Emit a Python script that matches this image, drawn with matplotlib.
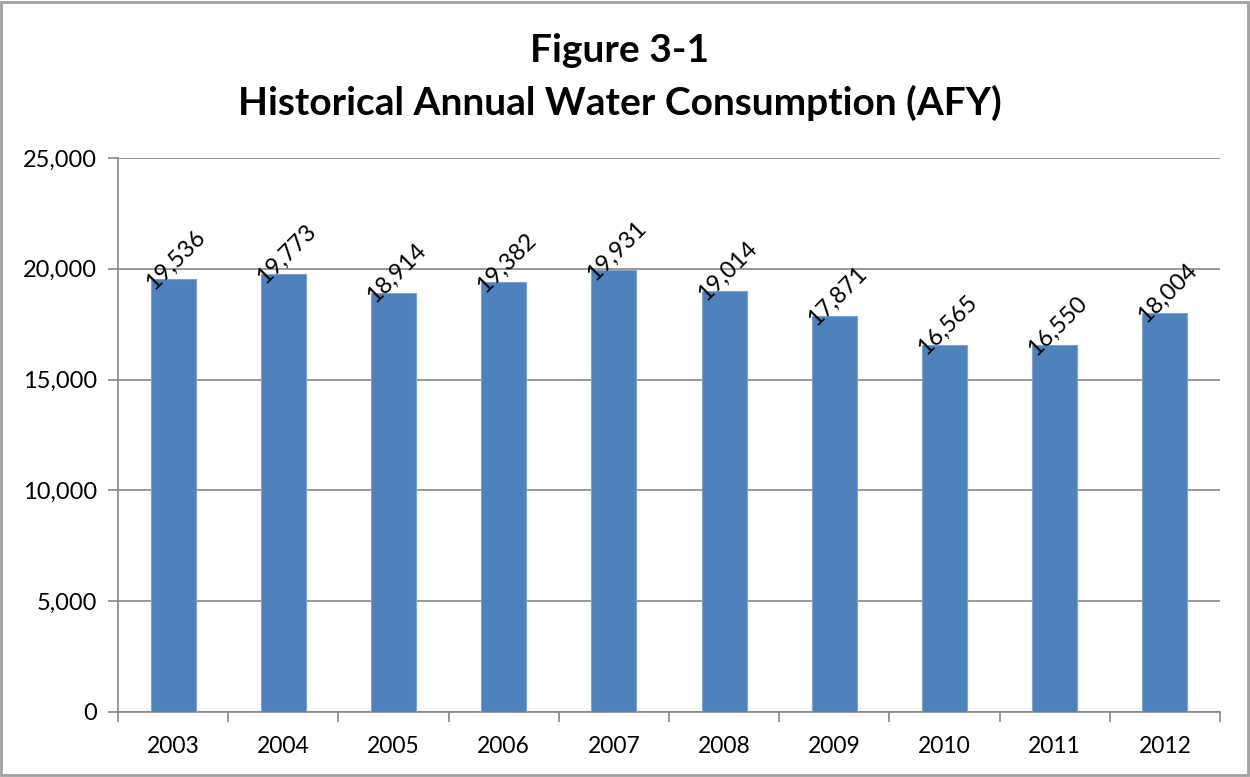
import matplotlib
matplotlib.use("Agg")
import matplotlib.pyplot as plt
from matplotlib.patches import Rectangle
from matplotlib.ticker import FuncFormatter, FixedLocator

plt.rcParams['font.family'] = ['Lato', 'DejaVu Sans']

years = ['2003', '2004', '2005', '2006', '2007', '2008', '2009', '2010', '2011', '2012']
consumption = [19536, 19773, 18914, 19382, 19931, 19014, 17871, 16565, 16550, 18004]
y_ticks = [0, 5000, 10000, 15000, 20000, 25000]

fig = plt.figure(figsize=(12.5, 7.77), dpi=100)
fig.patches.append(Rectangle((0.001, 0.002), 0.997, 0.995, transform=fig.transFigure,
                             fill=False, edgecolor='#a0a0a0', linewidth=2))
ax = fig.add_axes([0.0944, 0.0837, 0.8816, 0.713])

x = list(range(len(years)))
ax.bar(x, consumption, width=0.41, color='#4f81bd', edgecolor='#7fa3d0', linewidth=0.8, zorder=3)

for xi, v in zip(x, consumption):
    ax.annotate(f'{v:,}', (xi, v), xytext=(2, 14), textcoords='offset points',
                rotation=45, rotation_mode='anchor', ha='center', va='center',
                fontsize=17, zorder=4)

ax.set_xlim(-0.5, len(years) - 0.5)
ax.set_ylim(0, 25000)
ax.set_yticks(y_ticks)
ax.yaxis.set_major_formatter(FuncFormatter(lambda v, p: f'{int(v):,}'))
ax.set_xticks(x)
ax.set_xticklabels(years)
ax.xaxis.set_minor_locator(FixedLocator([i - 0.5 for i in range(len(years) + 1)]))
ax.tick_params(axis='x', which='major', length=0, pad=17, labelsize=16.5)
ax.tick_params(axis='x', which='minor', length=7, width=1.2, color='#868686')
ax.tick_params(axis='y', length=7, width=1.2, color='#868686', labelsize=17, pad=8)

ax.grid(axis='y', color='#868686', linewidth=1.2, zorder=0)
for s in ['top', 'right']:
    ax.spines[s].set_visible(False)
for s in ['left', 'bottom']:
    ax.spines[s].set_color('#868686')
    ax.spines[s].set_linewidth(1.2)

fig.text(0.496, 0.935, 'Figure 3-1', ha='center', va='center', fontsize=28, fontweight='bold')
fig.text(0.496, 0.867, 'Historical Annual Water Consumption (AFY)', ha='center', va='center',
         fontsize=28, fontweight='bold')

fig.savefig('out.png', dpi=100)
